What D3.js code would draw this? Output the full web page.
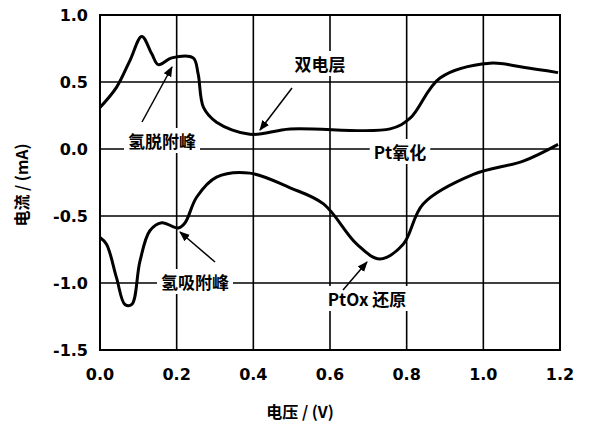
<!DOCTYPE html>
<html><head><meta charset="utf-8">
<script src="https://cdn.jsdelivr.net/npm/d3@7"></script>
<style>body{margin:0;background:#fff}</style>
</head><body><svg id="c" width="600" height="439"></svg>
<script>
// anodic sweep (upper branch), V vs mA
const upV = [0, .043, .078, .109, .135, .152, .187, .243, .256, .27, .304, .391, .496, .757, .809, .887, 1.017, 1.104, 1.195];
const upI = [.31, .46, .66, .84, .71, .63, .68, .68, .56, .31, .20, .11, .15, .15, .23, .53, .64, .61, .57];
// cathodic sweep (lower branch)
const dnV = [1.195, 1.104, .974, .843, .791, .730, .670, .583, .496, .391, .304, .252, .222, .204, .161, .13, .104, .083, .065, .043, .017, 0];
const dnI = [.035, -.09, -.19, -.41, -.71, -.82, -.71, -.41, -.29, -.18, -.21, -.36, -.55, -.59, -.55, -.61, -.84, -1.16, -1.16, -.96, -.71, -.66];
const xTicks = [0, 0.2, 0.4, 0.6, 0.8, 1.0, 1.2];
const yTicks = [1.0, 0.5, 0.0, -0.5, -1.0, -1.5];

const svg = d3.select("#c");
const x = d3.scaleLinear().domain([0, 1.2]).range([100, 560]);
const y = d3.scaleLinear().domain([-1.5, 1.0]).range([350, 15]);
const font = "'Noto Sans CJK SC', sans-serif";

// grid
svg.selectAll("line.gx").data(xTicks).enter().append("line")
  .attr("x1", d => x(d)).attr("x2", d => x(d)).attr("y1", y(1)).attr("y2", y(-1.5))
  .attr("stroke", "#000").attr("stroke-width", 1.6);
svg.selectAll("line.gy").data(yTicks).enter().append("line")
  .attr("y1", d => y(d)).attr("y2", d => y(d)).attr("x1", x(0)).attr("x2", x(1.2))
  .attr("stroke", "#000").attr("stroke-width", 1.6);
svg.append("rect").attr("x", x(0)).attr("y", y(1)).attr("width", x(1.2) - x(0)).attr("height", y(-1.5) - y(1))
  .attr("fill", "none").attr("stroke", "#000").attr("stroke-width", 2);

// tick labels
svg.selectAll("text.yt").data(yTicks).enter().append("text")
  .attr("x", 88).attr("y", d => y(d) + 6).attr("text-anchor", "end")
  .attr("font-family", "'DejaVu Sans', sans-serif").attr("font-weight", "bold").attr("font-size", 16)
  .text(d => d.toFixed(1));
svg.selectAll("text.xt").data(xTicks).enter().append("text")
  .attr("x", d => x(d)).attr("y", 380).attr("text-anchor", "middle")
  .attr("font-family", "'DejaVu Sans', sans-serif").attr("font-weight", "bold").attr("font-size", 16)
  .text(d => d.toFixed(1));

svg.append("text").attr("x", 300).attr("y", 418).attr("text-anchor", "middle")
  .attr("font-family", font).attr("font-weight", "bold").attr("font-size", 16).text("电压 / (V)");
svg.append("text").attr("transform", "translate(28,185) rotate(-90)").attr("text-anchor", "middle")
  .attr("font-family", font).attr("font-weight", "bold").attr("font-size", 16).text("电流 / (mA)");

// curves
const line = d3.line().x(d => x(d[0])).y(d => y(d[1])).curve(d3.curveCatmullRom.alpha(0.5));
[[upV, upI], [dnV, dnI]].forEach(([vs, is]) => {
  svg.append("path").attr("d", line(vs.map((v, i) => [v, is[i]])))
    .attr("fill", "none").attr("stroke", "#000").attr("stroke-width", 3).attr("stroke-linejoin", "round");
});

// annotations
const notes = [
  {t: "双电层", x: 320, y: 71, ax: [292, 88, 260, 130]},
  {t: "氢脱附峰", x: 162, y: 148, ax: [142, 122, 172, 67]},
  {t: "Pt氧化", x: 400, y: 159, ax: null},
  {t: "氢吸附峰", x: 195, y: 289, ax: [215, 262, 180, 232]},
  {t: "PtOx 还原", x: 367, y: 306, ax: [343, 290, 367, 262]}
];
svg.append("defs").append("marker").attr("id", "ar").attr("viewBox", "0 0 10 10")
  .attr("refX", 9).attr("refY", 5).attr("markerWidth", 7).attr("markerHeight", 7).attr("orient", "auto")
  .append("path").attr("d", "M0,1L10,5L0,9z").attr("fill", "#000");
notes.forEach(n => {
  const t = svg.append("text").attr("x", n.x).attr("y", n.y).attr("text-anchor", "middle")
    .attr("font-family", font).attr("font-weight", "bold").attr("font-size", 17).text(n.t);
  const b = t.node().getBBox();
  svg.insert("rect", "text").attr("x", b.x - 4).attr("y", b.y).attr("width", b.width + 8).attr("height", b.height).attr("fill", "#fff");
  if (n.ax) svg.append("line").attr("x1", n.ax[0]).attr("y1", n.ax[1]).attr("x2", n.ax[2]).attr("y2", n.ax[3])
    .attr("stroke", "#000").attr("stroke-width", 1.5).attr("marker-end", "url(#ar)");
});
</script></body></html>
